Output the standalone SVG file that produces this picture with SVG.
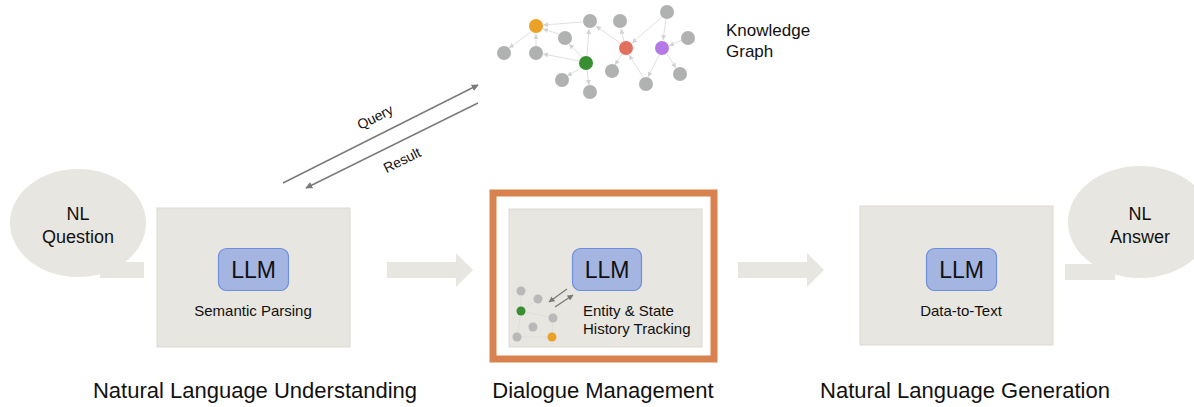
<svg xmlns="http://www.w3.org/2000/svg" width="1194" height="407" viewBox="0 0 1194 407">
  <defs>
    <style>
      text { font-family: "Liberation Sans", Arial, sans-serif; fill: #111; }
      .box { fill: #e8e6e0; stroke: #dcd9d2; stroke-width: 1; }
      .llm { fill: #a4b5e2; stroke: #6d8fdc; stroke-width: 1.2; }
      .llmt { font-size: 23px; text-anchor: middle; }
      .cap { font-size: 15px; text-anchor: middle; }
      .sec { font-size: 22px; text-anchor: middle; }
      .bub { fill: #e8e6e0; }
      .bubt { font-size: 18px; text-anchor: middle; }
      .flow { fill: #e8e6e0; }
      .kg-e { stroke: #e0e0e0; stroke-width: 1; fill: none; marker-end: url(#kgHead); }
      .kg-n { fill: #b0b2b1; }
      .qr { stroke: #7a7a7a; stroke-width: 1.4; fill: none; marker-end: url(#qrHead); }
      .mini-e { stroke: #dedede; stroke-width: 1; fill: none; }
      .mini-n { fill: #b8b9b8; }
      .mini-a { stroke: #7a7a7a; stroke-width: 1.3; fill: none; marker-end: url(#miniHead); }
    </style>
    <marker id="kgHead" viewBox="0 0 6 6" refX="6" refY="3" markerWidth="5" markerHeight="5" orient="auto">
      <path d="M0,0 L6,3 L0,6 z" fill="#d2d2d2"/>
    </marker>
    <marker id="qrHead" viewBox="0 0 10 10" refX="9" refY="5" markerWidth="7" markerHeight="7" markerUnits="userSpaceOnUse" orient="auto">
      <path d="M0,0 L10,5 L0,10 z" fill="#7a7a7a"/>
    </marker>
    <marker id="miniHead" viewBox="0 0 10 10" refX="9" refY="5" markerWidth="6" markerHeight="6" markerUnits="userSpaceOnUse" orient="auto">
      <path d="M0,0 L10,5 L0,10 z" fill="#7a7a7a"/>
    </marker>
  </defs>
  <rect width="1194" height="407" fill="#ffffff"/>

  <!-- Knowledge graph -->
  <g id="knowledge-graph">
    <g class="kg-edges">
      <line class="kg-e" x1="583" y1="22" x2="543" y2="25"/>
      <line class="kg-e" x1="559" y1="34" x2="543" y2="29"/>
      <line class="kg-e" x1="536" y1="46" x2="536" y2="34"/>
      <line class="kg-e" x1="531" y1="32" x2="509" y2="48"/>
      <line class="kg-e" x1="579" y1="61" x2="543" y2="54"/>
      <line class="kg-e" x1="587" y1="56" x2="589" y2="29"/>
      <line class="kg-e" x1="582" y1="57" x2="569" y2="44"/>
      <line class="kg-e" x1="581" y1="68" x2="567" y2="76"/>
      <line class="kg-e" x1="587" y1="70" x2="589" y2="85"/>
      <line class="kg-e" x1="620" y1="43" x2="596" y2="26"/>
      <line class="kg-e" x1="624" y1="41" x2="621" y2="29"/>
      <line class="kg-e" x1="622" y1="54" x2="615" y2="65"/>
      <line class="kg-e" x1="662" y1="17" x2="632" y2="43"/>
      <line class="kg-e" x1="643" y1="77" x2="629" y2="55"/>
      <line class="kg-e" x1="659" y1="55" x2="648" y2="77"/>
      <line class="kg-e" x1="666" y1="19" x2="663" y2="40"/>
      <line class="kg-e" x1="682" y1="40" x2="669" y2="46"/>
      <line class="kg-e" x1="667" y1="54" x2="676" y2="68"/>
    </g>
    <circle class="kg-n" cx="590" cy="21" r="7"/>
    <circle class="kg-n" cx="620" cy="21" r="7"/>
    <circle class="kg-n" cx="667" cy="12" r="7"/>
    <circle class="kg-n" cx="565" cy="38" r="7"/>
    <circle class="kg-n" cx="504" cy="53" r="7"/>
    <circle class="kg-n" cx="536" cy="53" r="7"/>
    <circle class="kg-n" cx="688" cy="38" r="7"/>
    <circle class="kg-n" cx="612" cy="71" r="7"/>
    <circle class="kg-n" cx="680" cy="74" r="7"/>
    <circle class="kg-n" cx="562" cy="80" r="7"/>
    <circle class="kg-n" cx="646" cy="84" r="7"/>
    <circle class="kg-n" cx="590" cy="92" r="7"/>
    <circle cx="536" cy="26" r="7" fill="#eba125"/>
    <circle cx="626" cy="48" r="7" fill="#e3705f"/>
    <circle cx="662" cy="48" r="7" fill="#b479e6"/>
    <circle cx="586" cy="63" r="7" fill="#378f31"/>
    <text x="726" y="36" font-size="17">Knowledge</text>
    <text x="726" y="57" font-size="17">Graph</text>
  </g>

  <!-- Speech bubbles -->
  <g id="nl-question">
    <ellipse class="bub" cx="78" cy="223" rx="68" ry="54"/>
    <rect class="bub" x="100" y="262" width="44" height="16"/>
    <text class="bubt" x="78" y="220">NL</text>
    <text class="bubt" x="78" y="243">Question</text>
  </g>
  <g id="nl-answer">
    <ellipse class="bub" cx="1140" cy="222" rx="72" ry="56"/>
    <rect class="bub" x="1065" y="264" width="50" height="16"/>
    <text class="bubt" x="1140" y="220">NL</text>
    <text class="bubt" x="1140" y="243">Answer</text>
  </g>

  <!-- Natural Language Understanding -->
  <g id="nlu">
    <rect class="box" x="157" y="208" width="193" height="139"/>
    <rect class="llm" x="218.5" y="248.5" width="70" height="42" rx="8"/>
    <text class="llmt" x="253.5" y="278">LLM</text>
    <text class="cap" x="253" y="316">Semantic Parsing</text>
  </g>

  <!-- Dialogue Management -->
  <g id="dm">
    <rect x="493" y="193" width="221" height="166" fill="none" stroke="#d8834f" stroke-width="7"/>
    <rect class="box" x="509" y="209" width="193" height="138"/>
    <rect class="llm" x="572.5" y="248.5" width="69" height="42" rx="8"/>
    <text class="llmt" x="607" y="278">LLM</text>
    <text x="583" y="316" font-size="15">Entity &amp; State</text>
    <text x="583" y="334" font-size="15">History Tracking</text>
    <g id="mini-graph">
      <line class="mini-e" x1="521" y1="291" x2="521" y2="311"/>
      <line class="mini-e" x1="521" y1="311" x2="538" y2="299"/>
      <line class="mini-e" x1="521" y1="311" x2="553" y2="318"/>
      <line class="mini-e" x1="521" y1="311" x2="517" y2="337"/>
      <line class="mini-e" x1="553" y1="318" x2="552" y2="337"/>
      <line class="mini-e" x1="517" y1="337" x2="552" y2="337"/>
      <circle class="mini-n" cx="521" cy="291" r="4.5"/>
      <circle class="mini-n" cx="538" cy="299" r="4.5"/>
      <circle class="mini-n" cx="553" cy="318" r="4.5"/>
      <circle class="mini-n" cx="533" cy="327" r="4.5"/>
      <circle class="mini-n" cx="517" cy="337" r="4.5"/>
      <circle cx="521" cy="311" r="4.5" fill="#378f31"/>
      <circle cx="552" cy="337" r="4.5" fill="#eba125"/>
      <line class="mini-a" x1="567" y1="289" x2="549" y2="302"/>
      <line class="mini-a" x1="555" y1="307" x2="573" y2="295"/>
    </g>
  </g>

  <!-- Natural Language Generation -->
  <g id="nlg">
    <rect class="box" x="860" y="206" width="193" height="139"/>
    <rect class="llm" x="926.5" y="248.5" width="70" height="42" rx="8"/>
    <text class="llmt" x="961.5" y="278">LLM</text>
    <text class="cap" x="961" y="316">Data-to-Text</text>
  </g>

  <!-- Connectors -->
  <g id="connectors">
    <path class="flow" d="M387,262 L456,262 L456,253 L473,270 L456,287 L456,278 L387,278 z"/>
    <path class="flow" d="M738,262 L807,262 L807,253 L824,270 L807,287 L807,278 L738,278 z"/>
    <line class="qr" x1="283" y1="183" x2="478" y2="85"/>
    <line class="qr" x1="478" y1="103" x2="306" y2="188"/>
    <text x="375" y="122" font-size="14" text-anchor="middle" transform="rotate(-26.7 375 117)">Query</text>
    <text x="402" y="165" font-size="14" text-anchor="middle" transform="rotate(-26.4 402 160)">Result</text>
  </g>

  <!-- Section titles -->
  <g id="section-titles">
    <text class="sec" x="255" y="398">Natural Language Understanding</text>
    <text class="sec" x="603" y="398">Dialogue Management</text>
    <text class="sec" x="965" y="398">Natural Language Generation</text>
  </g>
</svg>
